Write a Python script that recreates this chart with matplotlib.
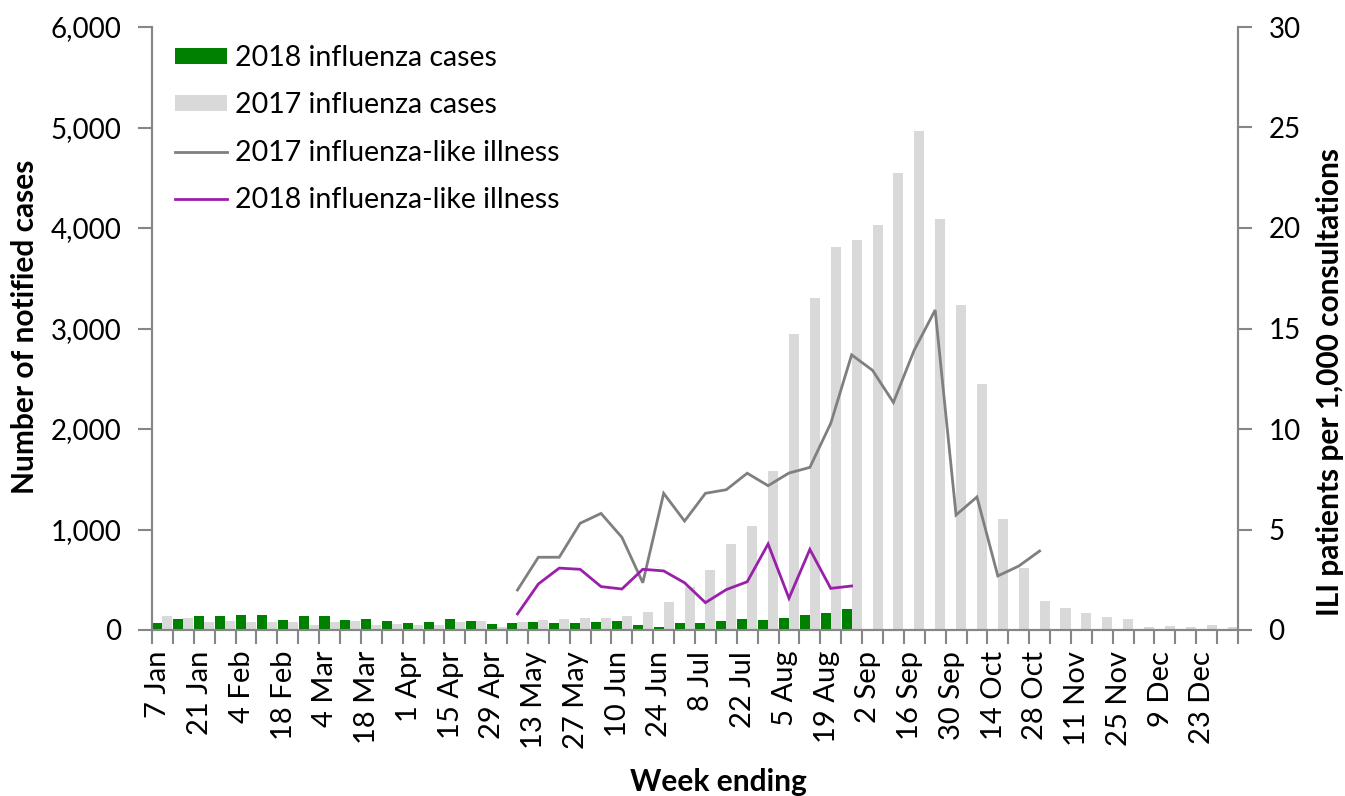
import matplotlib
matplotlib.use("Agg")
import matplotlib.pyplot as plt
import numpy as np
from matplotlib.ticker import FuncFormatter, FixedLocator, MultipleLocator
from matplotlib.patches import Patch
from matplotlib.lines import Line2D

weeks = ["7 Jan", "14 Jan", "21 Jan", "28 Jan", "4 Feb", "11 Feb", "18 Feb", "25 Feb",
         "4 Mar", "11 Mar", "18 Mar", "25 Mar", "1 Apr", "8 Apr", "15 Apr", "22 Apr",
         "29 Apr", "6 May", "13 May", "20 May", "27 May", "3 Jun", "10 Jun", "17 Jun",
         "24 Jun", "1 Jul", "8 Jul", "15 Jul", "22 Jul", "29 Jul", "5 Aug", "12 Aug",
         "19 Aug", "26 Aug", "2 Sep", "9 Sep", "16 Sep", "23 Sep", "30 Sep", "7 Oct",
         "14 Oct", "21 Oct", "28 Oct", "4 Nov", "11 Nov", "18 Nov", "25 Nov", "2 Dec",
         "9 Dec", "16 Dec", "23 Dec", "30 Dec"]

cases_2018 = [67, 113, 140, 140, 146, 146, 103, 140, 140, 103,
              113, 94, 67, 80, 113, 87, 60, 73, 80, 73,
              70, 80, 87, 53, 30, 67, 73, 87, 107, 100,
              115, 150, 170, 210]

cases_2017 = [140, 120, 80, 90, 80, 83, 83, 54, 83, 90,
              54, 60, 54, 54, 80, 87, 34, 80, 97, 105,
              122, 122, 139, 176, 275, 425, 594, 859, 1032, 1582,
              2950, 3300, 3810, 3880, 4030, 4550, 4965, 4090, 3230, 2445,
              1100, 615, 285, 220, 166, 130, 107, 27, 40, 33,
              50, 27]

ili_2017 = [None] * 17 + [1.99, 3.62, 3.62, 5.31, 5.80, 4.61, 2.35, 6.80, 5.42, 6.80,
                          6.98, 7.80, 7.18, 7.81, 8.09, 10.28, 13.69, 12.92, 11.32, 13.93,
                          15.92, 5.72, 6.62, 2.69, 3.18, 3.93]

ili_2018 = [None] * 17 + [0.80, 2.29, 3.08, 3.02, 2.16, 2.04, 3.02, 2.94, 2.35, 1.36,
                          2.01, 2.40, 4.28, 1.58, 4.01, 2.07, 2.19]

GREEN = "#008000"
LGRAY = "#D9D9D9"
LINEGRAY = "#7F7F7F"
PURPLE = "#9A1FAA"
SPINE = "#868686"

plt.rcParams['font.family'] = ['Lato', 'DejaVu Sans']

fig = plt.figure(figsize=(13.45, 7.96), dpi=100)
ax = fig.add_axes([152/1345, 1 - 630/796, (1238-152)/1345, (630-27)/796])
ax2 = ax.twinx()

x = np.arange(len(weeks))
bw = 0.48
x18 = x[:len(cases_2018)] - bw
ax.bar(x18, cases_2018, width=bw, align='edge', color=GREEN, zorder=3)
ax.bar(x[:len(cases_2017)], cases_2017, width=bw, align='edge', color=LGRAY, zorder=2)

y17 = np.array([np.nan if v is None else v for v in ili_2017], dtype=float)
y18 = np.array([np.nan if v is None else v for v in ili_2018], dtype=float)
ax2.plot(x[:len(y17)], y17, color=LINEGRAY, lw=2.0, solid_joinstyle='miter')
ax2.plot(x[:len(y18)], y18, color=PURPLE, lw=2.0, solid_joinstyle='miter')

ax.set_xlim(-0.5, len(weeks) - 0.5)
ax.set_ylim(0, 6000)
ax2.set_ylim(0, 30)

ax.yaxis.set_major_locator(MultipleLocator(1000))
ax.yaxis.set_major_formatter(FuncFormatter(lambda v, p: f"{int(v):,}"))
ax2.yaxis.set_major_locator(MultipleLocator(5))

ax.set_xticks(x[::2] - 0.2)
ax.set_xticklabels(weeks[::2], rotation=90, fontsize=21)
ax.xaxis.set_minor_locator(FixedLocator(np.arange(-0.5, len(weeks), 1.0)))
ax.tick_params(axis='x', which='major', length=0, pad=15)
ax.tick_params(axis='x', which='minor', length=10, width=1.5, color=SPINE)
ax.tick_params(axis='y', which='major', length=10, width=1.5, color=SPINE, labelsize=20, pad=12)
ax2.tick_params(axis='y', which='major', length=10, width=1.5, color=SPINE, labelsize=20, pad=12)

for a in (ax, ax2):
    a.spines['top'].set_visible(False)
    for s in ('left', 'right', 'bottom'):
        a.spines[s].set_color(SPINE)
        a.spines[s].set_linewidth(1.5)

handles = [Patch(facecolor=GREEN, edgecolor='none'),
           Patch(facecolor=LGRAY, edgecolor='none'),
           Line2D([], [], color=LINEGRAY, lw=2.0),
           Line2D([], [], color=PURPLE, lw=2.0)]
labels = ["2018 influenza cases", "2017 influenza cases",
          "2017 influenza-like illness", "2018 influenza-like illness"]
ax2.legend(handles, labels, loc='upper left', bbox_to_anchor=(0.021, 0.97),
           frameon=False, fontsize=20.5, handlelength=1.85, handleheight=0.5,
           handletextpad=0.25, labelspacing=0.75, borderaxespad=0, borderpad=0)

fig.text(25/1345, 1 - 327/796, "Number of notified cases", rotation=90,
         ha='center', va='center', fontsize=21.5, fontweight='bold')
fig.text(1330/1345, 1 - 382/796, "ILI patients per 1,000 consultations", rotation=90,
         ha='center', va='center', fontsize=21.5, fontweight='bold')
fig.text(718/1345, 1 - 782/796, "Week ending", ha='center', va='center',
         fontsize=21.5, fontweight='bold')

fig.savefig("out.png", dpi=100)
